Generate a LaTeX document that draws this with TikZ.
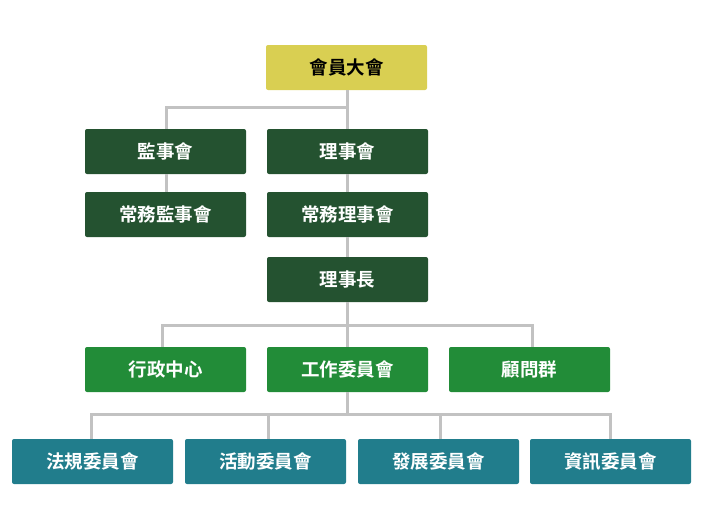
\documentclass[tikz,border=0pt]{standalone}
\usepackage{fontspec}
\setmainfont{Noto Sans CJK TC}[BoldFont={Noto Sans CJK TC Bold}]
\definecolor{cYellow}{HTML}{D9CF52}
\definecolor{cDark}{HTML}{245230}
\definecolor{cGreen}{HTML}{228C38}
\definecolor{cTeal}{HTML}{217D8C}
\definecolor{cLine}{HTML}{C2C2C2}
\begin{document}
\begin{tikzpicture}[x=1pt,y=-1pt,
  box/.style={rounded corners=2pt, minimum width=161pt, minimum height=45pt, inner sep=0pt, font=\fontsize{18.5}{21}\selectfont\bfseries, text=white},
  topbox/.style={box, fill=cYellow, text=black},
  darkbox/.style={box, fill=cDark},
  greenbox/.style={box, fill=cGreen},
  tealbox/.style={box, fill=cTeal},
  conn/.style={draw=cLine, line width=3pt}]
\useasboundingbox (0,0) rectangle (704,530);
\node[topbox] (top) at (346.5,67.5) {會員大會};
\node[darkbox] (jsh) at (165.5,151.5) {監事會};
\node[darkbox] (lsh) at (347.5,151.5) {理事會};
\node[darkbox] (cjs) at (165.5,214.5) {常務監事會};
\node[darkbox] (cls) at (347.5,214.5) {常務理事會};
\node[darkbox] (lsz) at (347.5,279.5) {理事長};
\node[greenbox] (xz) at (165.5,369.5) {行政中心};
\node[greenbox] (gz) at (347.5,369.5) {工作委員會};
\node[greenbox] (gw) at (529.5,369.5) {顧問群};
\node[tealbox] (fg) at (92.5,461.5) {法規委員會};
\node[tealbox] (hd) at (265.5,461.5) {活動委員會};
\node[tealbox] (fz) at (438.5,461.5) {發展委員會};
\node[tealbox] (zx) at (610.5,461.5) {資訊委員會};
\coordinate (j1) at (347,107);
\coordinate (j1l) at (166,107);
\coordinate (j2) at (347,325);
\coordinate (j2l) at (162,325);
\coordinate (j2r) at (532,325);
\coordinate (j3) at (347,414);
\coordinate (b1) at (91,414);
\coordinate (b2) at (268,414);
\coordinate (b3) at (440,414);
\coordinate (b4) at (610,414);
\draw[conn] (top.south -| j1) -- (lsh.north -| j1);
\draw[conn] (j1) -- (j1l) -- (jsh.north -| j1l);
\draw[conn] (jsh.south -| j1l) -- (cjs.north -| j1l);
\draw[conn] (lsh.south -| j1) -- (cls.north -| j1);
\draw[conn] (cls.south -| j1) -- (lsz.north -| j1);
\draw[conn] (lsz.south -| j2) -- (gz.north -| j2);
\draw[conn] (j2l |- xz.north) -- (j2l) -- (j2r) -- (j2r |- gw.north);
\draw[conn] (gz.south -| j3) -- (j3);
\draw[conn] (b1 |- fg.north) -- (b1) -- (b4) -- (b4 |- zx.north);
\draw[conn] (b2) -- (b2 |- hd.north);
\draw[conn] (b3) -- (b3 |- fz.north);
\end{tikzpicture}
\end{document}
